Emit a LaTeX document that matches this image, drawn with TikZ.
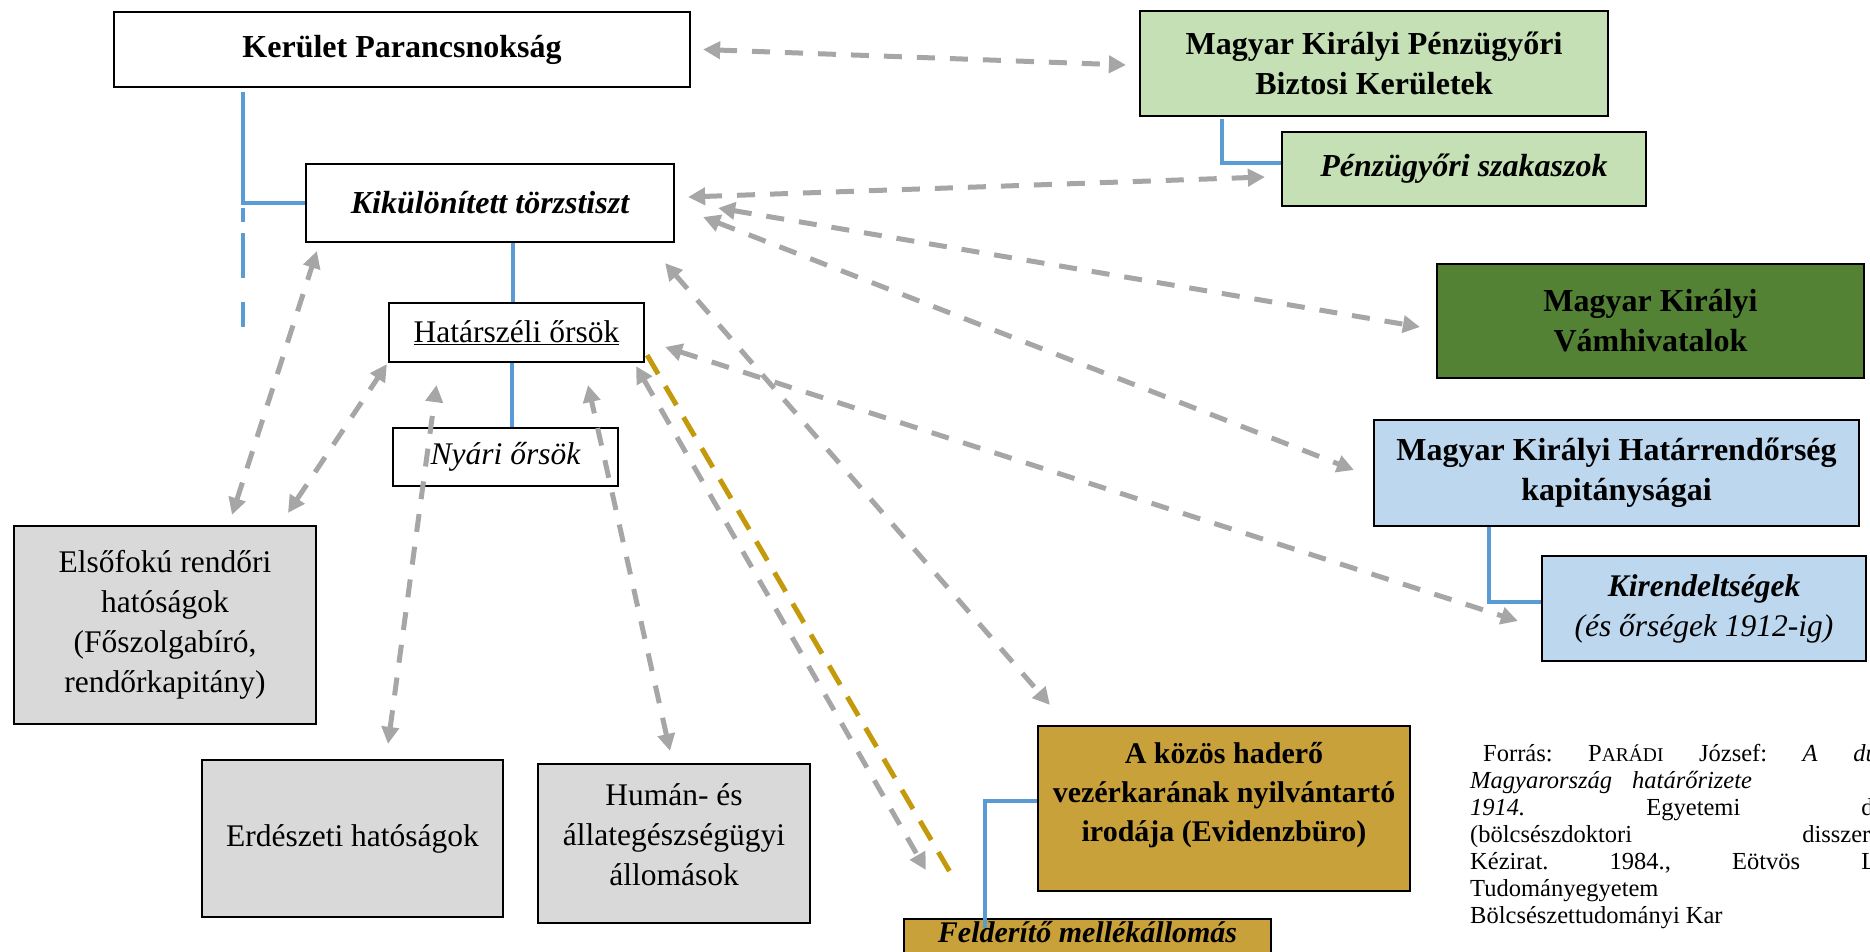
\documentclass[tikz,border=0pt]{standalone}
\usepackage{fontspec}
\setmainfont{Liberation Serif}
\usetikzlibrary{arrows.meta,calc}
\definecolor{lgreen}{HTML}{C5E0B4}
\definecolor{dgreen}{HTML}{548235}
\definecolor{lblue}{HTML}{BDD7EE}
\definecolor{lgray}{HTML}{D9D9D9}
\definecolor{gold}{HTML}{C8A13A}
\definecolor{goldline}{HTML}{C49A0C}
\definecolor{linkblue}{HTML}{5B9BD5}
\definecolor{arrgray}{HTML}{A6A6A6}
\newcommand\jsp{\hskip 0.25em plus 1fil\relax}
\begin{document}
\begin{tikzpicture}[x=1pt,y=-1pt,
  box/.style={draw=black, line width=2.2pt, inner sep=0pt, align=center, text=black,
              font=\fontsize{32}{40}\selectfont},
  bbox/.style={box, font=\fontsize{32}{40}\selectfont\bfseries},
  rbox/.style={box, font=\fontsize{31.5}{40}\selectfont},
  label/.style={inner sep=0pt, align=center, text=black},
  arr/.style={draw=arrgray, line width=5pt, dash pattern=on 18pt off 15pt,
              {Triangle[length=17pt,width=17pt]}-{Triangle[length=17pt,width=17pt]}},
  link/.style={draw=linkblue, line width=3.5pt},
  goldlink/.style={draw=goldline, line width=5pt, dash pattern=on 22pt off 14pt}]
\useasboundingbox (0,0) rectangle (1870,952);

% boxes
\node[bbox, minimum width=576pt, minimum height=75pt] (kp) at (402,49.5) {Kerület Parancsnokság};
\node[bbox, fill=lgreen, minimum width=468pt, minimum height=105pt] (bk) at (1374,63.5) {Magyar Királyi Pénzügyőri\\Biztosi Kerületek};
\node[bbox, fill=lgreen, minimum width=364pt, minimum height=74pt] (psz) at (1464,169) {\itshape Pénzügyőri szakaszok};
\node[bbox, minimum width=368pt, minimum height=78pt] (kt) at (490,203) {\itshape Kikülönített törzstiszt};
\node[bbox, fill=dgreen, minimum width=427pt, minimum height=114pt] (vh) at (1650.5,321) {Magyar Királyi\\Vámhivatalok};
\node[rbox, minimum width=255pt, minimum height=59pt] (ho) at (516.5,332.5) {\underline{Határszéli őrsök}};
\node[rbox, minimum width=225pt, minimum height=58pt] (ny) at (505.5,457) {\itshape Nyári őrsök};
\node[bbox, fill=lblue, minimum width=485pt, minimum height=106pt] (hr) at (1616.5,473) {Magyar Királyi Határrendőrség\\kapitányságai};
\node[rbox, fill=lblue, minimum width=324pt, minimum height=105pt] (kr) at (1704,608.5) {\textbf{\textit{Kirendeltségek}}\\\textit{(és őrségek 1912-ig)}};
\node[rbox, fill=lgray, minimum width=302pt, minimum height=198pt] (ef) at (165,625) {Elsőfokú rendőri\\hatóságok\\(Főszolgabíró,\\rendőrkapitány)};
\node[rbox, fill=lgray, minimum width=301pt, minimum height=157pt] (eh) at (352.5,838.5) {Erdészeti hatóságok};
\node[box, fill=lgray, minimum width=272pt, minimum height=159pt] (hu) at (674,843.5) {};
\node[label, font=\fontsize{31.5}{40}\selectfont] (hutext) at (674,835) {Humán- és\\állategészségügyi\\állomások};
\node[box, fill=gold, minimum width=372pt, minimum height=165pt] (ak) at (1224,808.5) {};
\node[label, font=\fontsize{30}{39}\selectfont\bfseries] (aktext) at (1224,795) {A közös haderő\\vezérkarának nyilvántartó\\irodája (Evidenzbüro)};
\node[bbox, fill=gold, minimum width=367pt, anchor=north, inner ysep=1pt, text height=22pt, text depth=40pt,
      font=\fontsize{30}{36}\selectfont\bfseries] (fm) at (1087.5,918) {\itshape Felderítő mellékállomás};

% source text
\begin{scope}
\clip (0,0) rectangle (1870,952);
\node[anchor=base west, inner sep=0pt, text=black] (src) at (1470,761) {%
\fontsize{24.5}{27}\selectfont
\vtop{\hsize=462pt \baselineskip=27pt
\hbox to\hsize{\hskip 13pt Forrás:\jsp P{\fontsize{19.5}{27}\selectfont ARÁDI}\jsp József:\jsp \textit{A}\jsp\textit{dualista}}
\hbox to\hsize{\textit{Magyarország}\hskip 20pt\textit{határőrizete}\hfil}
\hbox to\hsize{\textit{1914.}\jsp Egyetemi\jsp doktori}
\hbox to\hsize{(bölcsészdoktori\jsp disszertáció).}
\hbox to\hsize{Kézirat.\jsp 1984.,\jsp Eötvös\jsp Loránd}
\hbox to\hsize{Tudományegyetem\hfil}
\hbox to\hsize{Bölcsészettudományi Kar\hfil}}};
\end{scope}

% blue organisational links
\draw[link] ([xshift=-159pt,yshift=-4pt]kp.south) |- (kt.west);
\coordinate (dtop) at (243,208);
\coordinate (dbot) at (243,327);
\draw[link, dash pattern=on 25pt off 24pt on 45pt off 11pt on 14pt off 60pt] (dbot) -- (dtop);
\draw[link] ([xshift=23pt]kt.south) -- ([xshift=23pt]kt.south |- ho.north);
\draw[link] ([xshift=-4.5pt]ho.south) -- ([xshift=-4.5pt]ho.south |- ny.north);
\draw[link] ([xshift=-152pt,yshift=-2pt]bk.south) |- ([yshift=6pt]psz.west);
\draw[link] ([xshift=-127.5pt]hr.south) |- ([yshift=6.5pt]kr.west);
\draw[link] ([yshift=7.5pt]ak.west) -| ([xshift=-102.5pt,yshift=-10pt]fm.north);

% yellow dashed link
\draw[goldlink] ($(ho.south east)+(2,-8)$) -- ($(fm.north west)+(50,-41)$);

% grey cooperation arrows
\draw[arr] ($(kp.east)+(12,0)$) -- ($(bk.west)+(-13,1.5)$);
\draw[arr] ($(kt.east)+(13,-6)$) -- ($(psz.west)+(-16,8)$);
\draw[arr] ($(kt.east)+(43,5)$) -- ($(vh.west)+(-16,6)$);
\draw[arr] ($(kt.east)+(28,14)$) -- ($(hr.west)+(-19,-3)$);
\draw[arr] ($(kt.south east)+(-10,20)$) -- ($(ak.north west)+(13,-20)$);
\draw[arr] ($(ho.east)+(20,14.5)$) -- ($(kr.west)+(-23,12.5)$);
\draw[arr] ($(ho.south east)+(-9,3)$) -- ($(fm.north west)+(23,-48)$);
\draw[arr] ($(ef.north)+(67,-10)$) -- ($(kt.south west)+(12,8)$);
\draw[arr] ($(ef.north)+(123,-12)$) -- ($(ho.south west)+(-1,1)$);
\draw[arr] ($(eh.north)+(35.5,-15)$) -- ($(ho.south)+(-80,22)$);
\draw[arr] ($(hu.north)+(-4,-12)$) -- ($(ho.south)+(71.5,22)$);
\end{tikzpicture}
\end{document}
